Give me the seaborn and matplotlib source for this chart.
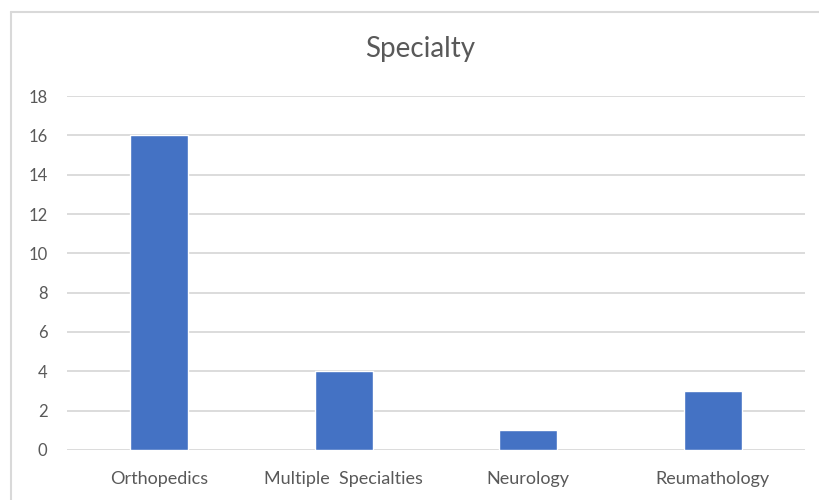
import matplotlib
matplotlib.use("Agg")
import matplotlib.pyplot as plt
from matplotlib.lines import Line2D
import seaborn as sns
import pandas as pd

categories = ["Orthopedics", "Multiple  Specialties", "Neurology", "Reumathology"]
counts = [16, 4, 1, 3]
y_ticks = [0, 2, 4, 6, 8, 10, 12, 14, 16, 18]

sns.set_theme(style="white")
plt.rcParams["font.family"] = ["Lato", "DejaVu Sans"]

text_color = "#595959"
grid_color = "#D9D9D9"
bar_color = "#4472C4"

df = pd.DataFrame({"Specialty": categories, "Count": counts})

fig = plt.figure(figsize=(8.19, 5.0), dpi=100)
ax = fig.add_axes([0.0818, 0.100, 0.901, 0.708])

sns.barplot(data=df, x="Specialty", y="Count", color=bar_color,
            width=0.314, saturation=1, ax=ax, zorder=3)

ax.set_ylim(0, 18)
ax.set_yticks(y_ticks)
ax.set_xlim(-0.5, len(categories) - 0.5)
ax.yaxis.grid(True, color=grid_color, linewidth=1.3, zorder=0)
ax.set_axisbelow(True)
for s in ax.spines.values():
    s.set_visible(False)
ax.set_xlabel("")
ax.set_ylabel("")
ax.tick_params(axis="both", length=0, colors=text_color)
ax.tick_params(axis="y", labelsize=12, pad=14)
ax.tick_params(axis="x", labelsize=13, pad=15)

fig.text(0.513, 0.903, "Specialty", ha="center", va="center",
         fontsize=20, color=text_color)

# Chart frame edges along the top and left
fig.add_artist(Line2D([11 / 819, 1.0], [1 - 11.5 / 500, 1 - 11.5 / 500],
                      transform=fig.transFigure, color=grid_color, linewidth=1.5))
fig.add_artist(Line2D([11 / 819, 11 / 819], [0, 1 - 11.5 / 500],
                      transform=fig.transFigure, color=grid_color, linewidth=1.5))

fig.savefig("out.png", dpi=100, facecolor="white")
